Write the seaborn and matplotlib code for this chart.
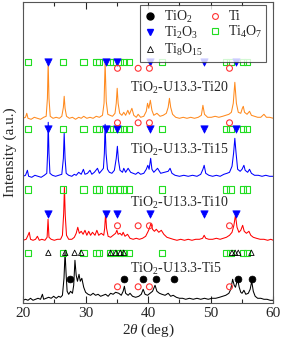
import matplotlib
matplotlib.use("Agg")
import matplotlib.pyplot as plt
import seaborn as sns
import pandas as pd
from matplotlib.lines import Line2D

# ---------------- data ----------------
two_theta_ti20 = [20.0, 20.4, 20.6, 20.8, 21.3, 21.8, 22.3, 22.8, 23.3, 23.7, 23.9, 24.02, 24.15, 24.35, 24.8, 25.3, 25.8, 26.2, 26.45, 26.58, 26.72, 26.95, 27.4, 27.9, 28.4, 28.9, 29.3, 29.7, 30.2, 30.7, 31.2, 31.7, 32.2, 32.7, 32.95, 33.12, 33.3, 33.55, 33.9, 34.3, 34.7, 34.9, 35.05, 35.2, 35.45, 35.8, 36.1, 36.4, 36.75, 37.0, 37.4, 37.7, 38.1, 38.4, 38.8, 39.3, 39.7, 39.9, 40.1, 40.35, 40.6, 40.9, 41.4, 41.9, 42.4, 42.9, 43.2, 43.4, 43.6, 43.9, 44.4, 45.0, 45.6, 46.2, 46.8, 47.4, 48.0, 48.5, 48.75, 49.0, 49.5, 50.1, 50.7, 51.3, 51.9, 52.4, 52.9, 53.3, 53.6, 53.85, 54.1, 54.4, 54.8, 55.05, 55.2, 55.4, 55.8, 56.2, 56.5, 57.0, 57.5, 58.0, 58.5, 58.9, 59.4, 60.0]
intensity_ti20 = [185, 186, 190, 185, 184, 186, 185, 184, 186, 187, 205, 241, 205, 187, 185, 186, 185, 187, 196, 207, 195, 187, 185, 186, 184, 186, 185, 187, 185, 186, 185, 187, 186, 188, 200, 241, 202, 189, 188, 187, 190, 200, 215, 200, 190, 188, 191, 188, 193, 189, 195, 188, 186, 189, 186, 187, 192, 200, 195, 203, 193, 188, 190, 187, 188, 190, 196, 205, 196, 189, 186, 185, 186, 185, 186, 185, 186, 188, 198, 189, 186, 186, 187, 186, 187, 188, 189, 191, 200, 221, 200, 191, 190, 195, 197, 191, 189, 192, 188, 187, 186, 186, 189, 186, 186, 185]

two_theta_ti15 = [20.0, 20.4, 20.7, 20.9, 21.4, 21.9, 22.4, 22.9, 23.4, 23.8, 23.93, 24.03, 24.15, 24.3, 24.7, 25.2, 25.7, 26.2, 26.45, 26.58, 26.72, 26.9, 27.3, 27.8, 28.2, 28.5, 28.9, 29.3, 29.65, 29.9, 30.3, 30.7, 31.0, 31.4, 31.9, 32.2, 32.6, 32.85, 33.0, 33.12, 33.27, 33.5, 33.8, 34.2, 34.6, 34.9, 35.08, 35.25, 35.5, 35.9, 36.1, 36.4, 36.8, 37.2, 37.6, 38.0, 38.4, 38.8, 39.3, 39.7, 39.95, 40.15, 40.4, 40.6, 40.9, 41.5, 42.0, 42.6, 43.2, 43.5, 43.8, 44.3, 45.0, 45.7, 46.4, 47.1, 47.8, 48.4, 48.75, 48.95, 49.2, 49.7, 50.3, 50.9, 51.5, 52.1, 52.6, 53.0, 53.4, 53.65, 53.85, 54.05, 54.3, 54.7, 55.0, 55.3, 55.5, 55.9, 56.2, 56.5, 57.0, 57.6, 58.2, 58.8, 59.4, 60.0]
intensity_ti15 = [127, 128, 133, 127, 126, 128, 127, 126, 128, 130, 150, 181, 150, 130, 128, 127, 128, 129, 145, 170, 145, 130, 128, 127, 129, 128, 131, 129, 134, 129, 130, 133, 129, 131, 135, 130, 133, 135, 150, 179, 150, 134, 131, 130, 133, 145, 157, 143, 133, 131, 135, 131, 135, 131, 130, 129, 131, 129, 130, 134, 138, 134, 145, 134, 131, 135, 130, 131, 132, 135, 130, 128, 127, 128, 127, 128, 127, 129, 134, 138, 130, 128, 127, 128, 127, 129, 130, 131, 137, 150, 165, 150, 134, 132, 134, 138, 133, 131, 134, 130, 128, 128, 127, 128, 127, 127]

two_theta_ti10 = [20.0, 20.5, 20.8, 21.0, 21.2, 21.6, 22.0, 22.3, 22.6, 23.0, 23.5, 23.85, 24.0, 24.15, 24.5, 25.0, 25.5, 26.0, 26.3, 26.5, 26.62, 26.75, 26.95, 27.3, 27.8, 28.2, 28.5, 28.75, 29.0, 29.3, 29.6, 29.9, 30.2, 30.5, 30.8, 31.1, 31.5, 31.8, 32.1, 32.5, 32.9, 33.05, 33.2, 33.35, 33.6, 34.0, 34.4, 34.8, 35.0, 35.2, 35.5, 35.8, 36.0, 36.3, 36.7, 37.1, 37.6, 38.1, 38.6, 39.1, 39.6, 40.0, 40.2, 40.45, 40.7, 41.0, 41.3, 41.7, 42.1, 42.5, 43.0, 43.5, 44.0, 44.6, 45.2, 45.8, 46.4, 47.0, 47.6, 48.2, 48.7, 48.95, 49.2, 49.7, 50.3, 50.9, 51.5, 52.0, 52.5, 53.0, 53.4, 53.7, 53.95, 54.2, 54.5, 54.8, 55.1, 55.35, 55.7, 56.1, 56.4, 56.8, 57.3, 57.9, 58.5, 59.1, 59.6, 60.0]
intensity_ti10 = [63, 64, 68, 71, 64, 63, 64, 67, 63, 64, 63, 66, 84, 66, 64, 63, 64, 64, 68, 90, 116, 88, 68, 64, 64, 66, 70, 76, 70, 72, 69, 73, 68, 72, 68, 71, 68, 73, 68, 70, 68, 75, 90, 75, 67, 66, 68, 70, 73, 69, 70, 68, 71, 67, 69, 65, 64, 65, 64, 65, 67, 72, 75, 80, 74, 72, 74, 71, 73, 69, 66, 65, 64, 63, 64, 63, 64, 63, 64, 64, 65, 68, 65, 64, 64, 65, 64, 65, 66, 68, 71, 78, 88, 76, 71, 73, 78, 72, 70, 72, 68, 66, 65, 64, 64, 63, 64, 63]

two_theta_ti5 = [20.0, 20.4, 20.8, 21.2, 21.6, 22.0, 22.4, 22.8, 23.1, 23.3, 23.7, 24.1, 24.5, 24.9, 25.3, 25.7, 26.0, 26.3, 26.55, 26.72, 26.88, 27.05, 27.3, 27.6, 27.9, 28.1, 28.3, 28.5, 28.7, 28.95, 29.15, 29.4, 29.7, 30.0, 30.4, 30.8, 31.2, 31.6, 32.0, 32.4, 32.8, 33.2, 33.6, 34.0, 34.4, 34.8, 35.3, 35.7, 36.0, 36.2, 36.4, 36.8, 37.1, 37.5, 38.0, 38.5, 38.9, 39.2, 39.5, 39.9, 40.3, 40.7, 41.1, 41.4, 41.8, 42.2, 42.7, 43.2, 43.6, 44.0, 44.5, 45.0, 45.5, 46.0, 46.6, 47.2, 47.8, 48.4, 49.0, 49.6, 50.2, 50.8, 51.4, 51.9, 52.4, 52.9, 53.2, 53.5, 53.75, 53.95, 54.3, 54.55, 54.8, 55.0, 55.3, 55.6, 56.0, 56.3, 56.55, 56.8, 57.1, 57.5, 58.0, 58.5, 59.0, 59.5, 60.0]
intensity_ti5 = [3, 4, 3, 5, 3, 4, 5, 4, 9, 4, 5, 6, 5, 7, 5, 7, 6, 8, 25, 51, 30, 12, 9, 12, 10, 18, 43, 28, 22, 29, 22, 25, 16, 11, 9, 8, 10, 8, 9, 7, 8, 9, 7, 10, 9, 11, 10, 8, 12, 17, 10, 8, 10, 7, 6, 7, 9, 14, 9, 8, 10, 12, 18, 12, 10, 9, 8, 10, 7, 8, 6, 5, 5, 4, 5, 4, 5, 4, 5, 4, 5, 5, 6, 7, 8, 10, 14, 24, 18, 16, 24, 16, 11, 10, 13, 9, 10, 14, 22, 12, 7, 5, 5, 4, 4, 3, 3]

# reference peak positions (2theta, deg)
pos_tio2 = [27.45, 36.15, 39.2, 41.3, 44.1, 54.35, 56.65]
pos_ti = [35.1, 38.4, 40.2, 53.0]
pos_ti2o3 = [24.05, 33.2, 35.0, 40.3, 48.9, 54.0]
pos_ti4o7 = [20.85, 26.4, 29.65, 31.75, 32.15, 33.85, 34.35, 35.5, 36.2, 37.0, 42.25, 52.45, 53.15, 55.1, 55.8]
pos_ti8o15 = [24.05, 26.75, 28.25, 29.3, 34.0, 34.85, 35.55, 36.1, 53.4, 53.9, 54.4, 56.5]

sample_labels = ["TiO$_2$-U13.3-Ti20", "TiO$_2$-U13.3-Ti15",
                 "TiO$_2$-U13.3-Ti10", "TiO$_2$-U13.3-Ti5"]
phase_labels = ["TiO$_2$", "Ti$_2$O$_3$", "Ti$_8$O$_{15}$", "Ti", "Ti$_4$O$_7$"]
x_ticks = [20, 30, 40, 50, 60]

# ---------------- style ----------------
sns.set_style("ticks")
plt.rcParams["font.family"] = ["Liberation Serif", "DejaVu Serif"]
plt.rcParams["mathtext.fontset"] = "custom"
plt.rcParams["mathtext.rm"] = "Liberation Serif"
plt.rcParams["mathtext.it"] = "Liberation Serif:italic"

fig = plt.figure(figsize=(2.82, 3.41), dpi=100)
ax = fig.add_axes([0.0816, 0.1106, 0.8876, 0.8844])

curves = [
    (two_theta_ti20, intensity_ti20, "#ff8a1e"),
    (two_theta_ti15, intensity_ti15, "#0000ff"),
    (two_theta_ti10, intensity_ti10, "#ff0000"),
    (two_theta_ti5, intensity_ti5, "#000000"),
]
for xs, ys, c in curves:
    df = pd.DataFrame({"x": xs, "y": ys})
    sns.lineplot(data=df, x="x", y="y", ax=ax, color=c, linewidth=0.75,
                 sort=False, estimator=None)

green = "#22dd22"
# marker rows: (positions, y level, marker, size, face, edge, lw)
rows = [
    # Ti20 row
    (pos_ti4o7, 241, "s", 20, "none", green, 0.8),
    (pos_ti2o3, 241, "v", 28, "#0000ff", "#0000ff", 0.5),
    (pos_ti, 235, "o", 18, "none", "#ff3333", 0.8),
    # Ti15 row
    (pos_ti4o7, 174.5, "s", 20, "none", green, 0.8),
    (pos_ti2o3, 174.5, "v", 28, "#0000ff", "#0000ff", 0.5),
    (pos_ti, 180.5, "o", 18, "none", "#ff3333", 0.8),
    # Ti10 row
    (pos_ti4o7, 113.7, "s", 20, "none", green, 0.8),
    (pos_ti2o3, 89, "v", 28, "#0000ff", "#0000ff", 0.5),
    (pos_ti, 77.5, "o", 18, "none", "#ff3333", 0.8),
    # Ti5 row
    (pos_ti4o7, 50.5, "s", 20, "none", green, 0.8),
    (pos_ti8o15, 50.5, "^", 15, "none", "#000000", 0.6),
    (pos_tio2, 24.5, "o", 24, "#000000", "#000000", 0.5),
    (pos_ti, 16.5, "o", 18, "none", "#ff3333", 0.8),
]
for pos, lvl, m, s, fc, ec, lw in rows:
    sns.scatterplot(x=pos, y=[lvl] * len(pos), ax=ax, marker=m, s=s,
                    facecolor=fc, edgecolor=ec, linewidth=lw, zorder=3)

# sample labels
for txt, yy in zip(sample_labels, [215, 153, 100, 34]):
    ax.text(37.1, yy, txt, fontsize=10, ha="left", va="center")

ax.set_xlim(20, 60)
ax.set_ylim(0, 301.6)
ax.set_xticks(x_ticks)
ax.set_xticks([25, 35, 45, 55], minor=True)
ax.set_yticks([])
ax.tick_params(axis="x", which="both", direction="in", top=True, bottom=True,
               labelsize=11, width=0.8, pad=3)
ax.tick_params(axis="x", which="major", length=5)
ax.tick_params(axis="x", which="minor", length=3)
for sp in ax.spines.values():
    sp.set_visible(True)
    sp.set_linewidth(0.8)
    sp.set_color("#555555")
ax.set_xlabel("$2\\theta$ (deg)", fontsize=11, labelpad=1)
ax.set_ylabel("Intensity (a.u.)", fontsize=11, labelpad=4)

handles = [
    Line2D([], [], ls="none", marker="o", ms=5, mfc="k", mec="k"),
    Line2D([], [], ls="none", marker="v", ms=5, mfc="#0000ff", mec="#0000ff"),
    Line2D([], [], ls="none", marker="^", ms=4.2, mfc="none", mec="k", mew=0.6),
    Line2D([], [], ls="none", marker="o", ms=4.2, mfc="none", mec="#ff3333", mew=0.8),
    Line2D([], [], ls="none", marker="s", ms=4.5, mfc="none", mec=green, mew=0.8),
]
leg = ax.legend(handles, phase_labels, ncol=2, loc="upper right",
                bbox_to_anchor=(0.972, 0.989), borderaxespad=0, fontsize=10,
                frameon=True, fancybox=False, edgecolor="#333333",
                handlelength=1.0, handletextpad=0.5, columnspacing=0.3,
                labelspacing=0.05, borderpad=0.25)
leg.get_frame().set_linewidth(0.8)

fig.savefig("out.png", dpi=100)
